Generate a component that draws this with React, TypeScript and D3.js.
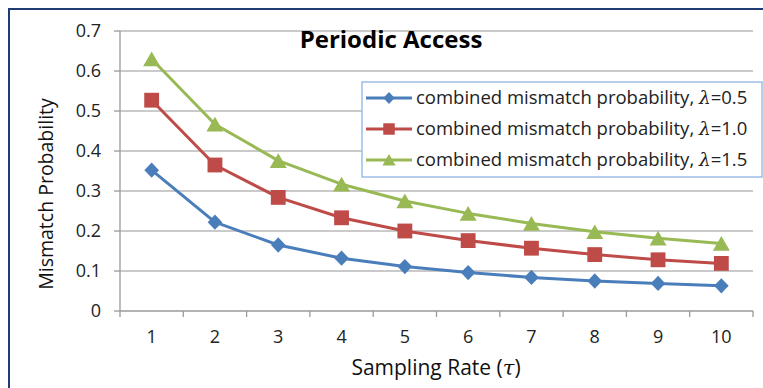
import React from "react";
import * as d3 from "d3";

const categories = [1, 2, 3, 4, 5, 6, 7, 8, 9, 10];
const lambda05 = [0.352, 0.222, 0.165, 0.132, 0.111, 0.096, 0.084, 0.075, 0.069, 0.063];
const lambda10 = [0.527, 0.365, 0.284, 0.233, 0.2, 0.176, 0.157, 0.141, 0.128, 0.119];
const lambda15 = [0.63, 0.467, 0.376, 0.317, 0.275, 0.244, 0.219, 0.198, 0.182, 0.169];
const yTicks = [0, 0.1, 0.2, 0.3, 0.4, 0.5, 0.6, 0.7];
const seriesNames = ["0.5", "1.0", "1.5"];

const W = 763, H = 388;
const left = 120, right = 753, top = 31, bottom = 311;

export default function App() {
  const x = d3.scaleBand<number>().domain(categories).range([left, right]);
  const y = d3.scaleLinear().domain([0, 0.7]).range([bottom, top]);
  const line = d3.line<number>().x((_, i) => x(categories[i])! + x.bandwidth() / 2).y((d) => y(d));
  const series = [
    { vals: lambda05, color: "#4a7ebb", sym: d3.symbolDiamond, size: 68, scaleX: 1.65, dy: 0 },
    { vals: lambda10, color: "#be4b48", sym: d3.symbolSquare, size: 220, scaleX: 1, dy: 0 },
    { vals: lambda15, color: "#98b954", sym: d3.symbolTriangle, size: 125, scaleX: 1, dy: 2.4 },
  ];
  const font = "'Open Sans', sans-serif";
  const ticksX = d3.range(0, categories.length + 1).map((i) => left + i * x.bandwidth());
  return (
    <svg width={W} height={H} style={{ position: "absolute", left: 0, top: 0, background: "#fff" }}>
      <rect x={9} y={9} width={W + 20} height={H + 20} fill="#fff" stroke="#1f3b73" strokeWidth={2} />
      {yTicks.map((t) => (
        <g key={t}>
          {t > 0 && <line x1={left} x2={right} y1={y(t)} y2={y(t)} stroke="#b9b9b9" strokeWidth={1.3} />}
          <line x1={left - 6} x2={left} y1={y(t)} y2={y(t)} stroke="#9a9a9a" strokeWidth={1.3} />
          <text x={101} y={y(t)} dy="0.35em" textAnchor="end" fontFamily={font} fontSize={18} fill="#222">
            {t === 0 ? "0" : t.toFixed(1)}
          </text>
        </g>
      ))}
      <line x1={left} x2={left} y1={top} y2={bottom} stroke="#9a9a9a" strokeWidth={1.3} />
      <line x1={left} x2={right} y1={bottom} y2={bottom} stroke="#9a9a9a" strokeWidth={1.3} />
      {ticksX.map((tx, i) => (
        <line key={i} x1={tx} x2={tx} y1={bottom} y2={bottom + 6} stroke="#9a9a9a" strokeWidth={1.3} />
      ))}
      {categories.map((c) => (
        <text key={c} x={x(c)! + x.bandwidth() / 2} y={337} dy="0.35em" textAnchor="middle" fontFamily={font} fontSize={18} fill="#222">
          {c}
        </text>
      ))}
      <text x={436} y={368} dy="0.35em" textAnchor="middle" fontFamily={font} fontSize={21} fill="#111">
        Sampling Rate (<tspan fontStyle="italic" fontFamily="'DejaVu Serif', serif">τ</tspan>)
      </text>
      <text transform={`translate(46,194) rotate(-90)`} dy="0.35em" textAnchor="middle" fontFamily={font} fontSize={19.5} fill="#111">
        Mismatch Probability
      </text>
      <text x={391} y={40} dy="0.35em" textAnchor="middle" fontFamily={font} fontWeight="bold" fontSize={24} fill="#000">
        Periodic Access
      </text>
      {series.map((s, si) => (
        <g key={si}>
          <path d={line(s.vals)!} fill="none" stroke={s.color} strokeWidth={3} strokeLinejoin="round" />
          {s.vals.map((v, i) => (
            <path
              key={i}
              d={d3.symbol(s.sym, s.size)()!}
              transform={`translate(${x(categories[i])! + x.bandwidth() / 2},${y(v) + s.dy}) scale(${s.scaleX},1)`}
              fill={s.color}
            />
          ))}
        </g>
      ))}
      <rect x={362} y={82} width={400} height={95} fill="#fff" stroke="#8eb4e3" strokeWidth={1.3} />
      {series.map((s, si) => {
        const ly = 98 + si * 31;
        return (
          <g key={si}>
            <line x1={366} x2={412} y1={ly} y2={ly} stroke={s.color} strokeWidth={3} />
            <path d={d3.symbol(s.sym, s.size * 0.6)()!} transform={`translate(389,${ly + s.dy * 0.7}) scale(${s.scaleX},1)`} fill={s.color} />
            <text x={416} y={ly} dy="0.35em" fontFamily={font} fontSize={18.5} fill="#222">
              combined mismatch probability, <tspan fontStyle="italic" fontFamily="'DejaVu Serif', serif">λ</tspan>={seriesNames[si]}
            </text>
          </g>
        );
      })}
    </svg>
  );
}
